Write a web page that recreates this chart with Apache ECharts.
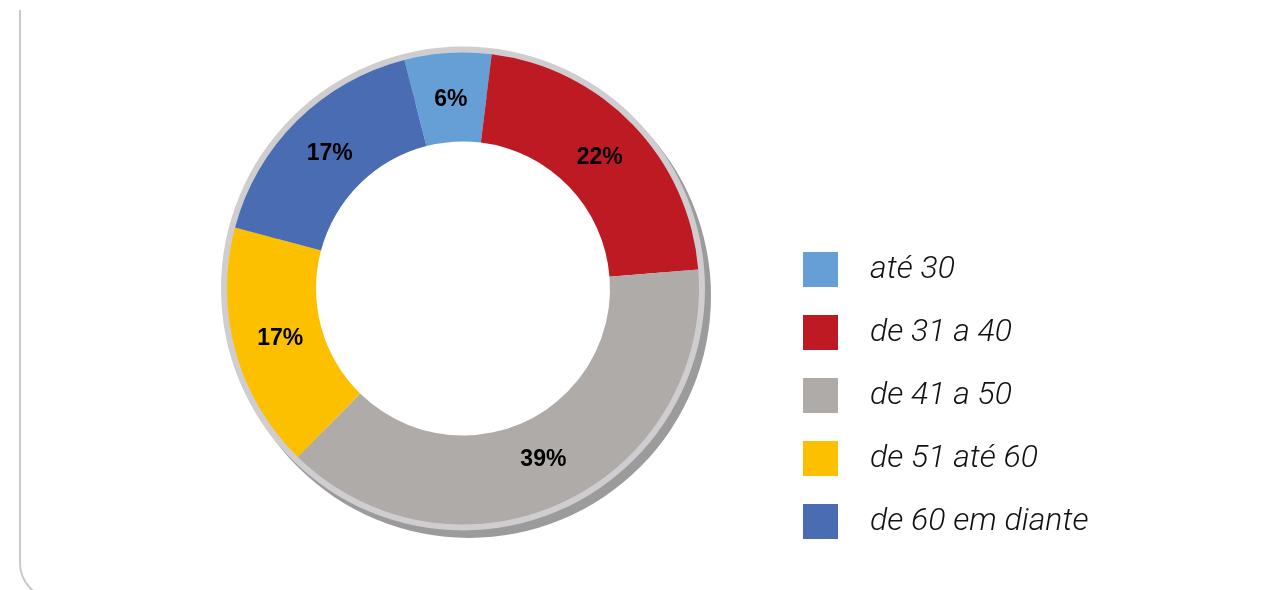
<!DOCTYPE html>
<html>
<head>
<meta charset="utf-8">
<script src="https://cdn.jsdelivr.net/npm/echarts@6/dist/echarts.min.js"></script>
<style>
    html, body { margin: 0; padding: 0; background: #fff; }
    #chart { width: 1285px; height: 590px; }
</style>
</head>
<body>
<div id="chart"></div>
<script>
// faixas etárias e percentuais
var faixas = ['até 30', 'de 31 a 40', 'de 41 a 50', 'de 51 até 60', 'de 60 em diante']
var percentuais = [6, 22, 39, 17, 17]
var cores = ['#659fd5', '#be1a24', '#afaba8', '#fcc000', '#4a6cb2']

var chart = echarts.init(document.getElementById('chart'))

var dados = faixas.map(function (nome, i) {
    return { name: nome, value: percentuais[i], itemStyle: { color: cores[i] } }
})

var moldura = { fill: null, stroke: '#c9c9c9', lineWidth: 2 }
var centro = [463, 288.5]
var inicio = 104.4

var option = {
    animation: false,
    graphic: [
        { type: 'line', silent: true, shape: { x1: 20, y1: 10, x2: 20, y2: 563 }, style: moldura },
        { type: 'arc', silent: true, shape: { cx: 56, cy: 563, r: 36, startAngle: Math.PI / 2, endAngle: Math.PI, clockwise: true }, style: moldura }
    ],
    legend: {
        orient: 'vertical',
        left: 798,
        top: 247,
        itemWidth: 35,
        itemHeight: 35,
        itemGap: 28,
        icon: 'rect',
        selectedMode: false,
        data: faixas,
        textStyle: {
            fontFamily: 'Roboto',
            fontStyle: 'italic',
            fontWeight: 300,
            fontSize: 32,
            color: '#111',
            padding: [0, 0, 0, 27]
        }
    },
    series: [
        // sombra escura
        {
            type: 'pie',
            silent: true,
            center: [469, 296],
            radius: [200, 242],
            label: { show: false },
            labelLine: { show: false },
            data: [{ value: 1, itemStyle: { color: '#9b9b9b' } }]
        },
        // anel cinza claro
        {
            type: 'pie',
            silent: true,
            center: centro,
            radius: [200, 242],
            label: { show: false },
            labelLine: { show: false },
            data: [{ value: 1, itemStyle: { color: '#cfcdd0' } }]
        },
        {
            name: 'Faixa etária',
            type: 'pie',
            center: centro,
            radius: [147, 236],
            startAngle: inicio,
            clockwise: true,
            emphasis: { disabled: true },
            label: { show: false },
            labelLine: { show: false },
            data: dados
        },
        // rótulos um pouco mais para dentro do anel
        {
            type: 'pie',
            silent: true,
            center: centro,
            radius: [147, 226],
            startAngle: inicio,
            clockwise: true,
            avoidLabelOverlap: false,
            itemStyle: { color: 'rgba(0,0,0,0)' },
            label: {
                show: true,
                position: 'inside',
                formatter: '{c}%',
                color: '#000',
                fontFamily: 'Liberation Sans',
                fontWeight: 'bold',
                fontSize: 23
            },
            labelLine: { show: false },
            data: percentuais.map(function (v, i) { return { name: faixas[i], value: v } })
        }
    ]
}
chart.setOption(option)
</script>
</body>
</html>
